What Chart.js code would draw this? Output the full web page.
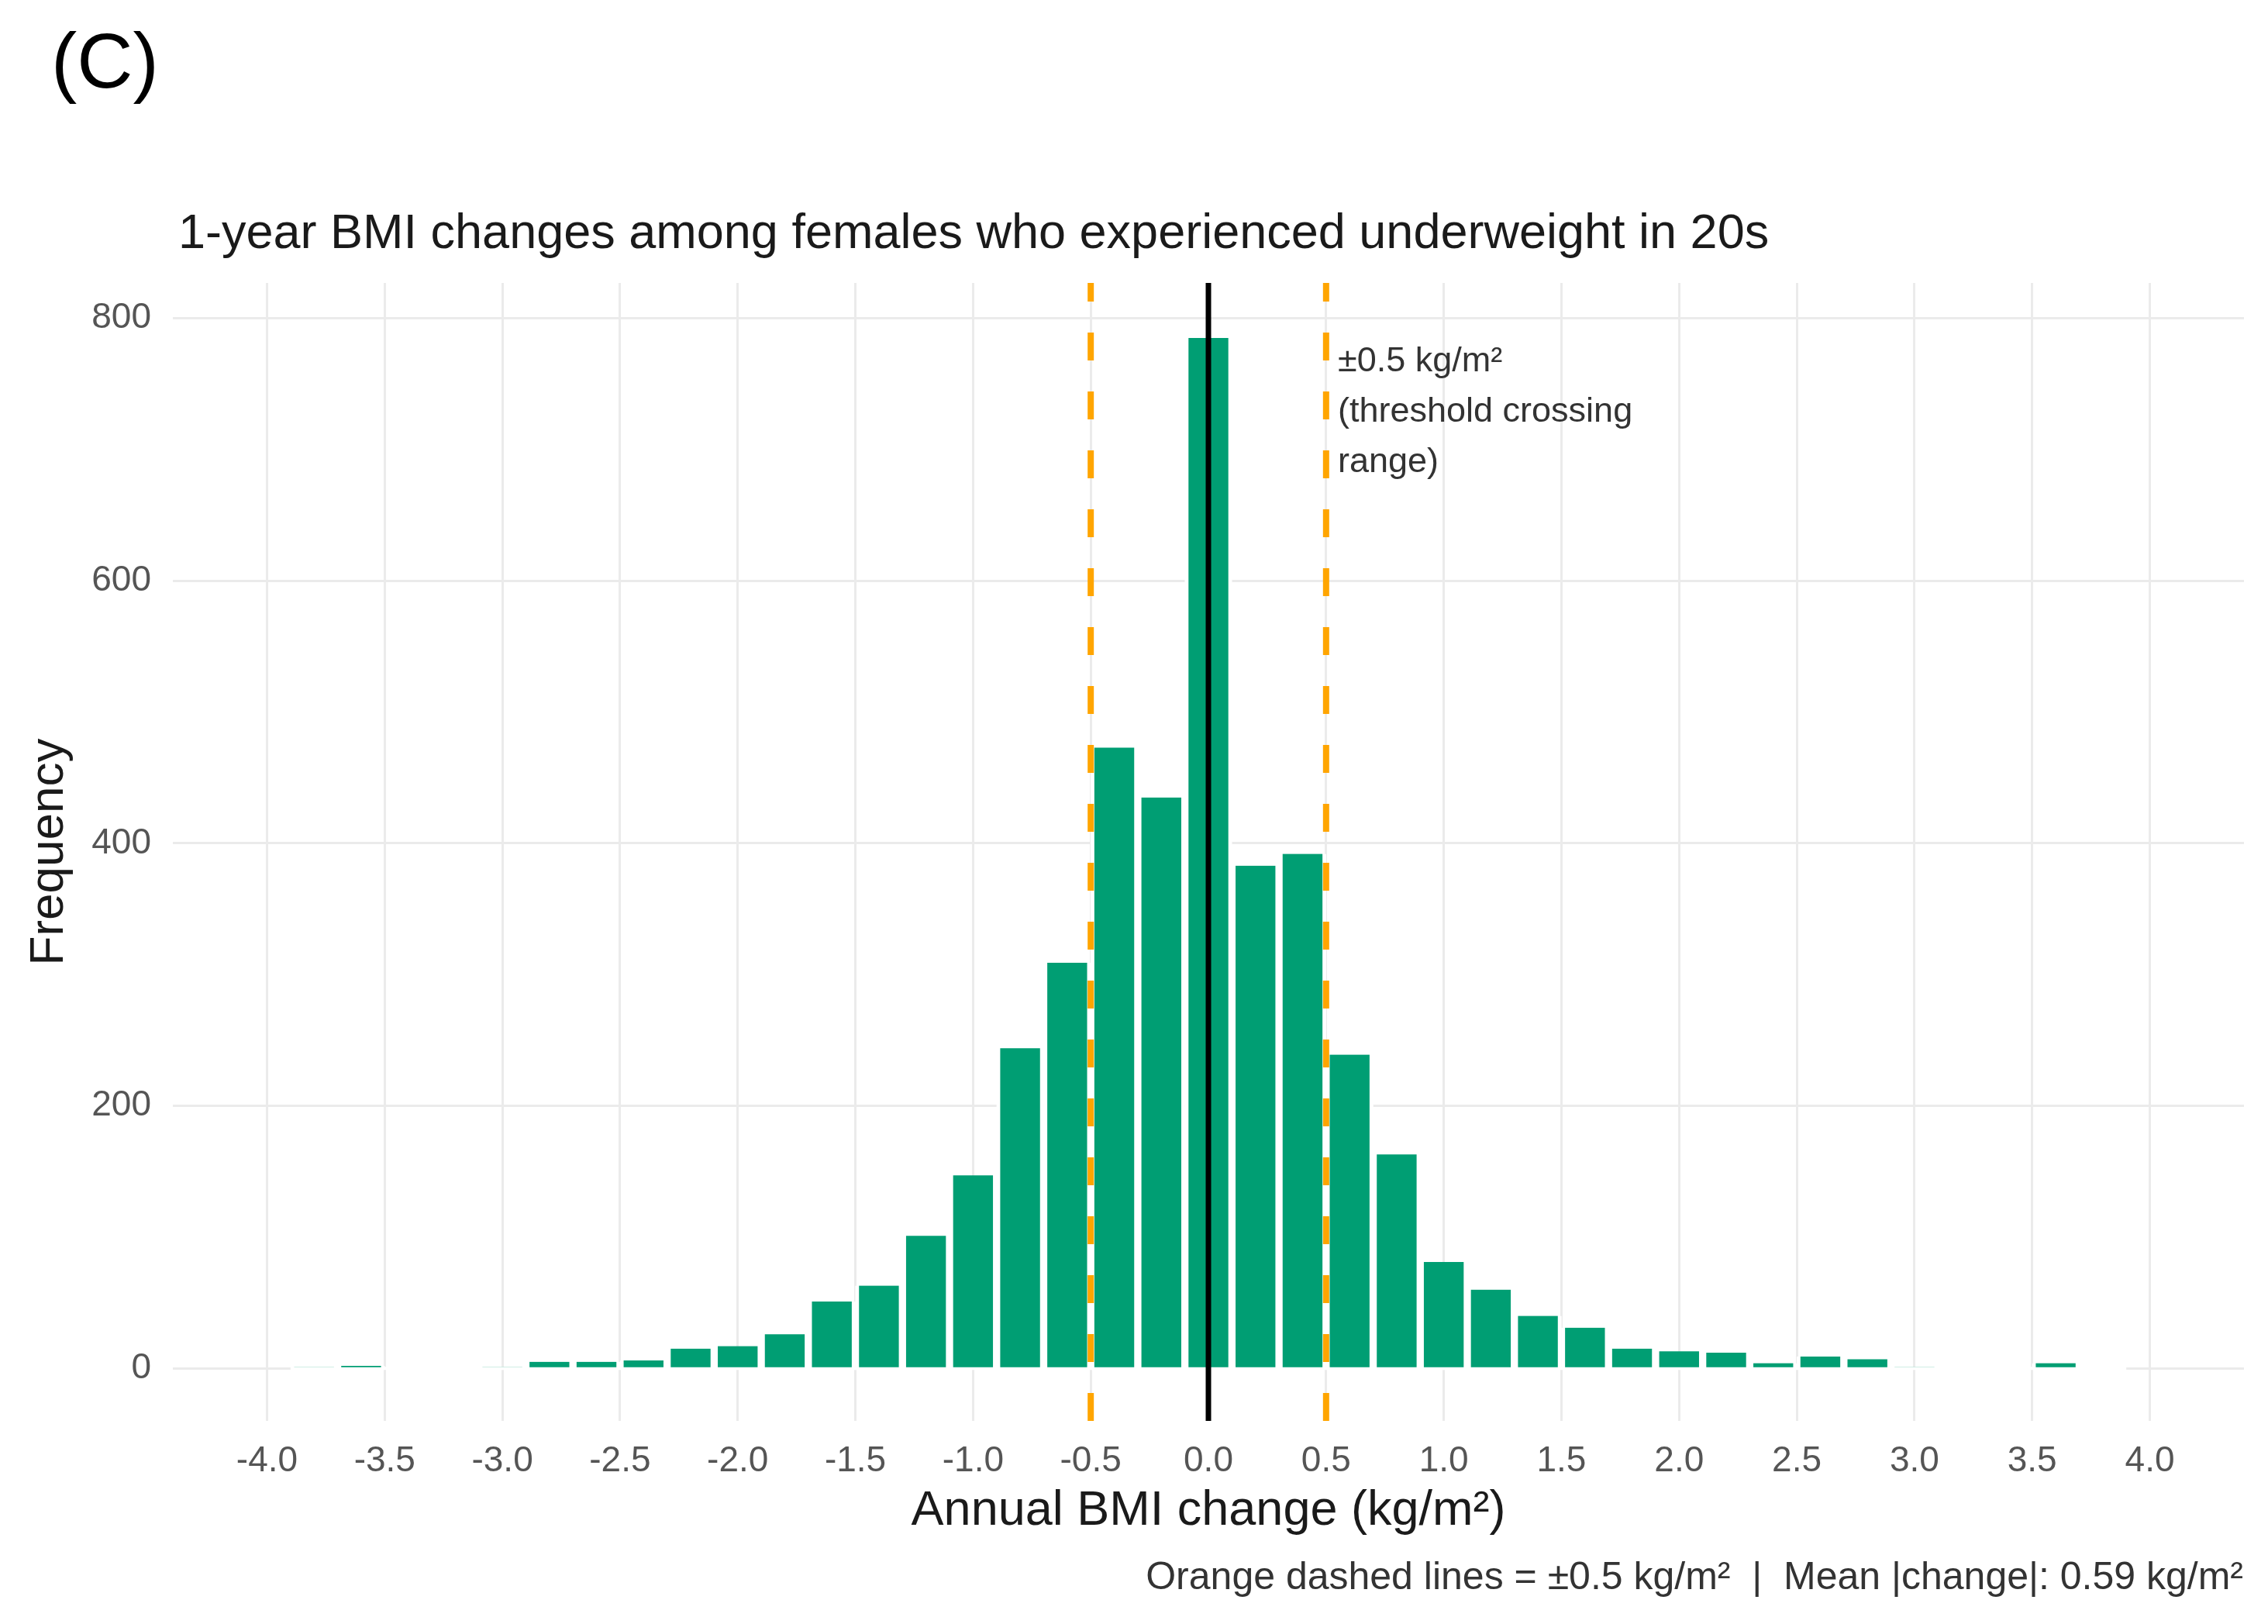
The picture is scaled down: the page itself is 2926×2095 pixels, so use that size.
<!DOCTYPE html>
<html>
<head>
<meta charset="utf-8">
<script src="https://cdn.jsdelivr.net/npm/chart.js@4.4.1/dist/chart.umd.min.js"></script>
<style>
    html, body { margin: 0; padding: 0; background: #fff; }
    canvas { display: block; }
</style>
</head>
<body>
<canvas id="histChart" width="2926" height="2095"></canvas>
<script>
// histogram bins (centre of each 0.2-wide bin) and counts
const binCenters = [-3.8, -3.6, -3.4, -3.2, -3.0, -2.8, -2.6, -2.4, -2.2, -2.0,
    -1.8, -1.6, -1.4, -1.2, -1.0, -0.8, -0.6, -0.4, -0.2, 0.0,
    0.2, 0.4, 0.6, 0.8, 1.0, 1.2, 1.4, 1.6, 1.8, 2.0,
    2.2, 2.4, 2.6, 2.8, 3.0, 3.2, 3.4, 3.6, 3.8];
const frequencies = [1, 2, 0, 0, 1, 5, 5, 6, 15, 17,
    26, 51, 63, 101, 147, 244, 309, 473, 435, 785,
    383, 392, 239, 163, 81, 60, 40, 31, 15, 13,
    12, 4, 9, 7, 1, 0, 0, 4, 0];
const binWidth = 0.2;

const xTickValues = [-4.0, -3.5, -3.0, -2.5, -2.0, -1.5, -1.0, -0.5, 0.0, 0.5, 1.0, 1.5, 2.0, 2.5, 3.0, 3.5, 4.0];
const yTickValues = [0, 200, 400, 600, 800];
const xLimits = [-4.4, 4.4];
const yLimits = [-40, 827];

const thresholdLines = [-0.5, 0.5];
const zeroLine = 0;

const annotX = 0.55;
const annotY = 767;
const annotLines = ["\u00b10.5 kg/m\u00b2", "(threshold crossing", "range)"];

const panelLabel = "(C)";
const chartTitle = "1-year BMI changes among females who experienced underweight in 20s";
const xTitle = "Annual BMI change (kg/m\u00b2)";
const yTitle = "Frequency";
const caption = "Orange dashed lines = \u00b10.5 kg/m\u00b2  |  Mean |change|: 0.59 kg/m\u00b2";

const FONT = "'Liberation Sans', Arial, Helvetica, sans-serif";
Chart.defaults.font.family = FONT;

function vline(x, color, width, dash) {
    return {
        type: "line",
        data: [{ x: x, y: yLimits[0] }, { x: x, y: yLimits[1] }],
        borderColor: color,
        borderWidth: width,
        borderDash: dash,
        pointRadius: 0,
        order: 0
    };
}

const textPlugin = {
    id: "texts",
    afterDraw(chart) {
        const ctx = chart.ctx;
        const area = chart.chartArea;
        const xs = chart.scales.x;
        const ys = chart.scales.y;
        ctx.save();

        ctx.fillStyle = "#000";
        ctx.font = "100px " + FONT;
        ctx.textAlign = "left";
        ctx.textBaseline = "alphabetic";
        ctx.fillText(panelLabel, 66, 113);

        ctx.fillStyle = "#1a1a1a";
        ctx.font = "63px " + FONT;
        ctx.fillText(chartTitle, 230, 320);

        ctx.font = "45px " + FONT;
        ctx.fillStyle = "#333";
        ctx.textBaseline = "middle";
        const ax = xs.getPixelForValue(annotX);
        const ay = ys.getPixelForValue(annotY);
        annotLines.forEach((line, i) => ctx.fillText(line, ax, ay + i * 65));

        ctx.fillStyle = "#1a1a1a";
        ctx.font = "63px " + FONT;
        ctx.textAlign = "center";
        ctx.textBaseline = "alphabetic";
        ctx.fillText(xTitle, (area.left + area.right) / 2, 1967);

        ctx.save();
        ctx.translate(64, (area.top + area.bottom) / 2);
        ctx.rotate(-Math.PI / 2);
        ctx.textBaseline = "middle";
        ctx.font = "62px " + FONT;
        ctx.fillText(yTitle, 0, 0);
        ctx.restore();

        ctx.fillStyle = "#333";
        ctx.font = "50px " + FONT;
        ctx.textAlign = "right";
        ctx.fillText(caption, 2894, 2050);

        ctx.restore();
    }
};

const ctx = document.getElementById("histChart").getContext("2d");

new Chart(ctx, {
    type: "bar",
    data: {
        datasets: [
            {
                type: "bar",
                data: binCenters.map((c, i) => ({ x: c, y: frequencies[i] })),
                backgroundColor: "#009E73",
                borderColor: "#ffffff",
                borderWidth: { left: 5, right: 5, top: 0, bottom: 0 },
                borderSkipped: false,
                barPercentage: 1,
                categoryPercentage: 1,
                order: 1
            },
            {
                // white outline of the empty bins over the zero grid line
                type: "line",
                data: [
                    { x: binCenters[0] - binWidth / 2, y: 0 },
                    { x: binCenters[binCenters.length - 1] + binWidth / 2, y: 0 }
                ],
                borderColor: "#ffffff",
                borderWidth: 4,
                pointRadius: 0,
                order: 2
            },
            vline(thresholdLines[0], "#FFA500", 8, [36, 40]),
            vline(thresholdLines[1], "#FFA500", 8, [36, 40]),
            vline(zeroLine, "#000000", 7, [])
        ]
    },
    options: {
        responsive: false,
        devicePixelRatio: 1,
        animation: false,
        layout: { padding: { top: 365, right: 31, left: 0, bottom: 0 } },
        plugins: {
            legend: { display: false },
            tooltip: { enabled: false },
            title: { display: false }
        },
        scales: {
            x: {
                type: "linear",
                min: xLimits[0],
                max: xLimits[1],
                offset: false,
                afterBuildTicks: s => { s.ticks = xTickValues.map(v => ({ value: v })); },
                afterFit: s => { s.height = 2095 - 1833; },
                grid: { color: "#EBEBEB", lineWidth: 3, drawTicks: false, offset: false },
                border: { display: false },
                ticks: {
                    color: "#555",
                    font: { size: 46 },
                    padding: 25,
                    maxRotation: 0,
                    autoSkip: false,
                    callback: v => v.toFixed(1)
                }
            },
            y: {
                type: "linear",
                min: yLimits[0],
                max: yLimits[1],
                afterBuildTicks: s => { s.ticks = yTickValues.map(v => ({ value: v })); },
                afterFit: s => { s.width = 223; },
                grid: { color: "#EBEBEB", lineWidth: 3, drawTicks: false },
                border: { display: false },
                ticks: {
                    color: "#555",
                    font: { size: 46 },
                    padding: 28
                }
            }
        }
    },
    plugins: [textPlugin]
});
</script>
</body>
</html>
